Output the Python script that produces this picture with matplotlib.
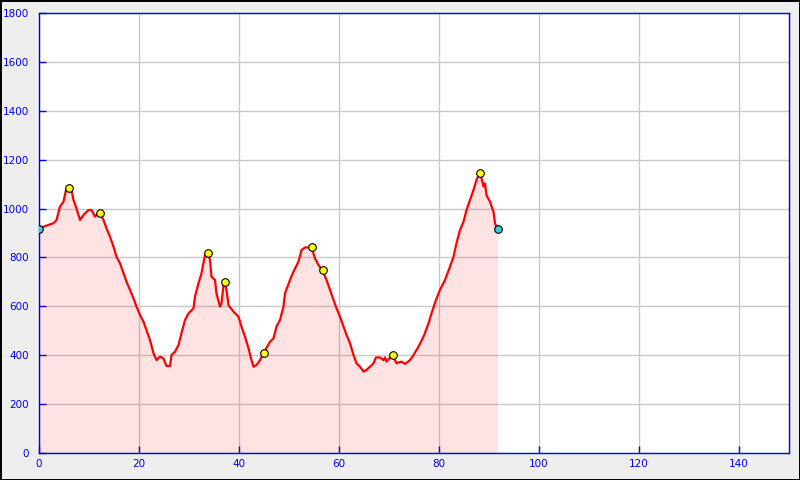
import numpy as np
import matplotlib
matplotlib.use('Agg')
import matplotlib.pyplot as plt

# elevation profile (km, m)
dist = [0, 0.9, 2.9, 3.5, 4.2, 4.9, 5.4, 5.9, 6.5, 6.9, 7.5, 8.2, 8.9, 9.9, 10.5,
        11.2, 11.5, 12.2, 12.9, 13.5, 14.2, 14.9, 15.5, 16.2, 16.9, 17.5, 18.2,
        18.9, 19.5, 20.2, 20.9, 21.5, 22.2, 22.9, 23.5, 24.2, 24.9, 25.5, 26.2,
        26.5, 27.2, 27.9, 28.5, 29.2, 29.9, 30.9, 31.2, 31.9, 32.5, 33.2, 33.7,
        34.2, 34.5, 35.2, 35.5, 36.2, 36.5, 36.9, 37.2, 37.5, 37.9, 38.9, 39.9,
        40.5, 41.2, 41.9, 42.5, 42.9, 43.5, 44.2, 44.9, 46.2, 46.9, 47.5, 48.2,
        48.9, 49.2, 50.2, 50.9, 51.9, 52.5, 53.2, 53.9, 54.5, 55.2, 55.9, 56.7,
        57.5, 58.2, 58.9, 59.5, 60.2, 60.9, 61.5, 62.2, 62.9, 63.5, 64.2, 64.9,
        65.5, 66.2, 66.9, 67.4, 68.2, 68.9, 69.2, 69.5, 70.7, 71.5, 72.5, 73.2,
        74.2, 74.9, 75.9, 76.9, 77.9, 78.5, 79.4, 80.2, 81.2, 82.2, 82.9, 83.5,
        84.2, 84.9, 85.5, 86.2, 86.9, 87.5, 88.1, 88.5, 88.9, 89.2, 89.5, 90.2,
        90.9, 91.2, 91.7]
elev = [915, 926, 940, 953, 1008, 1028, 1076, 1083, 1076, 1035, 1001, 953, 974,
        994, 994, 967, 974, 981, 953, 919, 885, 844, 803, 776, 735, 701, 667,
        633, 599, 565, 537, 503, 462, 408, 380, 394, 387, 356, 356, 401, 414,
        442, 490, 544, 571, 592, 640, 694, 735, 810, 818, 790, 721, 708, 653,
        599, 612, 687, 698, 667, 605, 578, 558, 517, 476, 428, 380, 353, 360,
        380, 408, 455, 469, 517, 544, 599, 653, 708, 742, 783, 830, 841, 841,
        843, 796, 769, 747, 708, 667, 626, 592, 558, 517, 483, 449, 401, 367,
        353, 333, 340, 353, 367, 391, 391, 380, 391, 374, 401, 367, 374, 364,
        380, 401, 435, 476, 530, 571, 626, 667, 708, 762, 803, 858, 912, 946,
        994, 1035, 1076, 1117, 1144, 1124, 1090, 1103, 1055, 1028, 987, 940, 915]

# waypoints
wp_km = [5.9, 12.2, 33.7, 37.2, 44.9, 54.5, 56.7, 70.7, 88.1]
wp_ele = [1083, 981, 818, 698, 408, 843, 747, 401, 1144]
end_km = [0, 91.7]
end_ele = [915, 915]

blue = '#0000ee'

fig = plt.figure(figsize=(8, 4.8), dpi=100)
fig.patch.set_facecolor('#eeeeee')
fig.patch.set_edgecolor('black')
fig.patch.set_linewidth(2)
ax = fig.add_axes([39/800, 27/480, 750/800, 440/480])

ax.grid(True, color='#c8c8c8', linewidth=1)
ax.set_axisbelow(True)
ax.fill_between(dist, 0, elev, color='red', alpha=0.11, linewidth=0, zorder=2)
ax.plot(dist, elev, color='red', linewidth=1.6, zorder=3)
ax.scatter(wp_km, wp_ele, s=30, color='yellow', edgecolors='black',
           linewidths=0.8, zorder=4)
ax.scatter(end_km, end_ele, s=30, color='#33ccdd', edgecolors='black',
           linewidths=0.8, zorder=4)

ax.set_xlim(0, 150)
ax.set_ylim(0, 1800)
ax.set_xticks(np.arange(0, 151, 20))
ax.set_yticks(np.arange(0, 1801, 200))
ax.tick_params(direction='in', length=5, width=1, color=blue,
               labelcolor=blue, labelsize=7.5)
ax.tick_params(axis='y', pad=7)
ax.tick_params(axis='x', pad=4)
for s in ax.spines.values():
    s.set_color(blue)
    s.set_linewidth(1)

fig.savefig('out.png', dpi=100, facecolor=fig.get_facecolor(),
            edgecolor=fig.get_edgecolor())
